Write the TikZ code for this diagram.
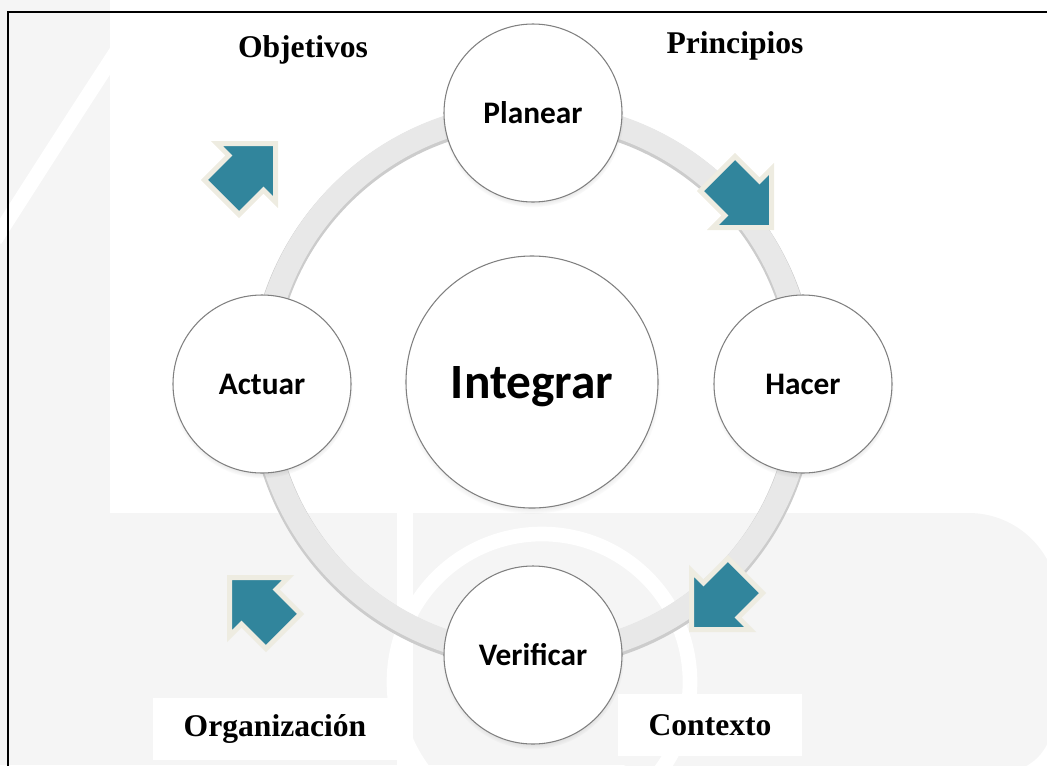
\documentclass[tikz,border=0pt]{standalone}
\usepackage{fontspec}
\setmainfont{Liberation Serif}
\newfontfamily\calibri{Carlito}
\usetikzlibrary{shapes.arrows,shadows}
\definecolor{azulflecha}{HTML}{31859C}
\definecolor{crema}{HTML}{EEECE1}
\definecolor{marca}{HTML}{F5F5F5}
\begin{document}
\begin{tikzpicture}[x=0.75pt, y=-0.75pt,
    etapa/.style={draw=black!50, line width=0.8pt, fill=white, circle, minimum size=133.5pt, inner sep=0pt,
      circular drop shadow={shadow xshift=0pt, shadow yshift=-2.5pt, shadow scale=1.02, opacity=.45},
      font=\calibri\bfseries\fontsize{23.5}{28}\selectfont},
    flecha/.style={single arrow, draw=crema, fill=azulflecha, line width=3.75pt, line join=miter,
      single arrow tip angle=90, single arrow head extend=12.75pt, minimum height=57pt,
      inner xsep=0pt, inner ysep=16.5pt, anchor=tip},
    etiqueta/.style={fill=white, inner xsep=23pt, minimum height=46pt,
      font=\bfseries\fontsize{23.7}{28}\selectfont}]
    \useasboundingbox (0,0) rectangle (1047,765);

    % Background mark
    \fill[marca] (0,0) rectangle (110,765);
    \draw[white, line width=11pt] (116,52) .. controls (75,115) .. (-5,240);
    \fill[marca] (110,513) rectangle (397,765);
    \fill[marca] (413,513) rectangle (900,765);
    \fill[marca, rounded corners=67pt] (600,513) rectangle (1058,700);
    \fill[marca, rounded corners=37pt] (600,600) rectangle (1052,772);
    \draw[white, line width=11pt] (542,682) circle (111pt);

    % Frame
    \draw[line width=1.7pt] (8,766) -- (8,12) -- (1048,12);

    % Ring
    \coordinate (o) at (532.5,384);
    \draw[black!20, line width=19pt] ([yshift=-1.5pt]o) circle (203.25pt);
    \draw[black!9, line width=17pt] (o) circle (203.25pt);

    % Labels
    \node[etiqueta] (l1) at (303,50) {Objetivos};
    \node[etiqueta] (l2) at (735,46) {Principios};
    \node[etiqueta] (l3) at (275,729) {Organización};
    \node[etiqueta] (l4) at (710,725) {Contexto};

    % Cycle
    \node[etapa, minimum size=189pt, text depth=0pt, font=\calibri\bfseries\fontsize{37}{44}\selectfont] (c0) at (532,382) {Integrar};
    \node[etapa] (c1) at (533,113) {Planear};
    \node[etapa] (c2) at (803,384) {Hacer};
    \node[etapa] (c3) at (533,655) {Verificar};
    \node[etapa] (c4) at (262,384) {Actuar};

    % Arrows
    \node[flecha, rotate=45] (a1) at (278,141) {};
    \node[flecha, rotate=-45] (a2) at (774,230) {};
    \node[flecha, rotate=-135] (a3) at (689,632) {};
    \node[flecha, rotate=135] (a4) at (227,575) {};
\end{tikzpicture}
\end{document}
